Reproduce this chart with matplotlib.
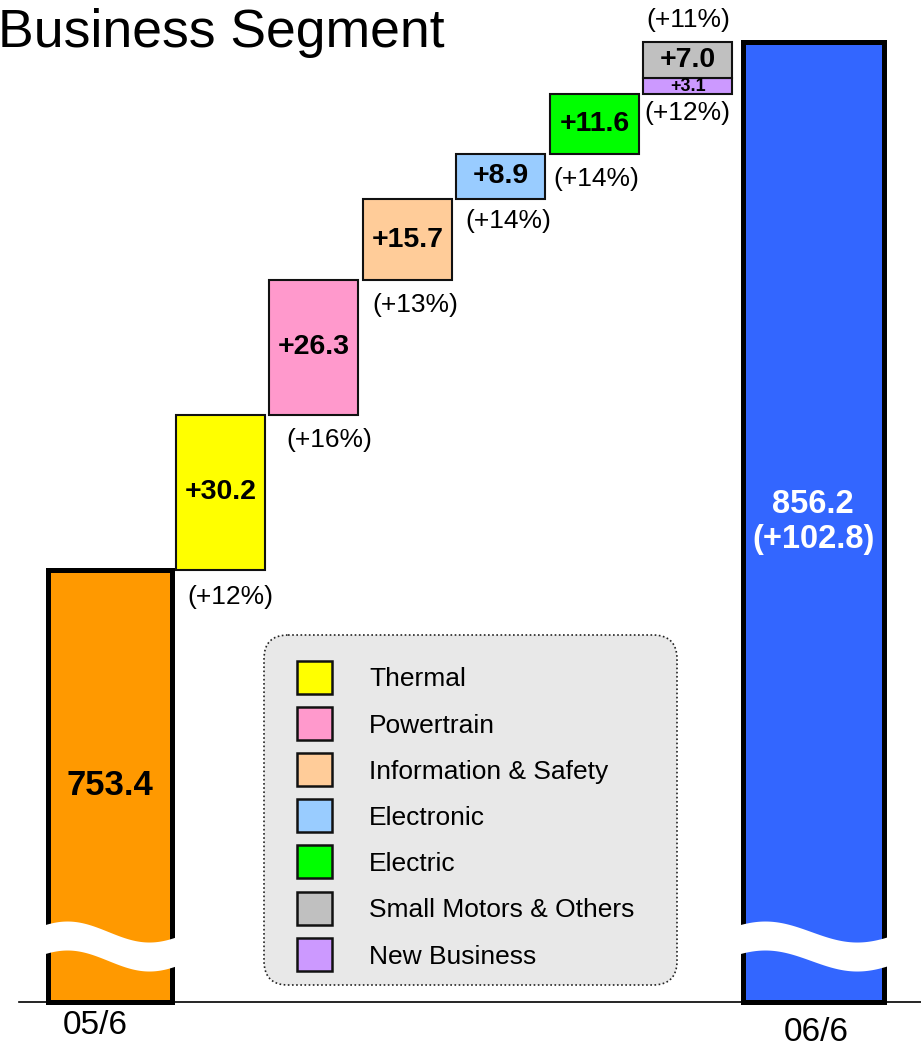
import numpy as np
import matplotlib.pyplot as plt
from matplotlib.patches import FancyBboxPatch, Rectangle

plt.rcParams['font.family'] = ['Liberation Sans', 'DejaVu Sans']

# sales by business segment (billions of yen)
periods = ['05/6', '06/6']
start_total = 753.4
end_total = 856.2
total_change = '+102.8'
segments = ['Thermal', 'Powertrain', 'Information & Safety', 'Electronic',
            'Electric', 'New Business', 'Small Motors & Others']
deltas = [30.2, 26.3, 15.7, 8.9, 11.6, 3.1, 7.0]
growth = ['+12%', '+16%', '+13%', '+14%', '+14%', '+12%', '+11%']
legend_order = ['Thermal', 'Powertrain', 'Information & Safety', 'Electronic',
                'Electric', 'Small Motors & Others', 'New Business']

seg_colors = {
    'Thermal': '#FFFF00',
    'Powertrain': '#FF99CC',
    'Information & Safety': '#FFCC99',
    'Electronic': '#99CCFF',
    'Electric': '#00FF00',
    'Small Motors & Others': '#C0C0C0',
    'New Business': '#CC99FF',
}

W, H = 921, 1049
fig = plt.figure(figsize=(W / 100, H / 100), dpi=100)
ax = fig.add_axes([0, 0, 1, 1])
ax.axis('off')

# one x unit = one step column; y is in value units with a cut floor
Y_TOP, Y_BOT = 864.4, 660.1
floor = 669.3
ax.set_xlim(-1.1765, 8.674)
ax.set_ylim(Y_BOT, Y_TOP)
px_y = H / (Y_TOP - Y_BOT)   # pixels per value unit
px_x = 93.5                  # pixels per column unit

# positions of the columns
start_x, end_x = 0.0, 7.52
seg_x = [1.18, 2.18, 3.18, 4.18, 5.18, 6.18, 6.18]
step_w = 0.955

# baseline
ax.plot([19 / px_x - 1.1765, 8.674], [floor, floor], color='black', lw=1.2, zorder=1)

# start and end totals
ax.bar(start_x, start_total - floor, bottom=floor, width=125 / px_x,
       color='#FF9900', edgecolor='black', linewidth=3.6, zorder=2)
ax.bar(end_x, end_total - floor, bottom=floor, width=141 / px_x,
       color='#3366FF', edgecolor='black', linewidth=3.6, zorder=2)

# segment steps
bottoms = start_total + np.cumsum(deltas) - np.array(deltas)
ax.bar(seg_x, deltas, bottom=bottoms, width=step_w,
       color=[seg_colors[s] for s in segments], edgecolor='#111111',
       linewidth=1.5, zorder=3)


def wave_cut(xc, width):
    # white wavy band showing the broken value axis
    left = xc - width / 2
    xs = np.linspace(left - 0.03, left + width + 0.03, 200)
    t = (xs - left) / width
    top = 682.98 + (10.5 / px_y) * np.cos(2 * np.pi * (t - 0.17) / 1.26)
    ax.fill_between(xs, top - 29 / px_y, top, color='white', lw=0, zorder=4)


wave_cut(start_x, 130 / px_x)
wave_cut(end_x, 146 / px_x)

# value labels
ax.text(start_x, (floor + start_total) / 2, f'{start_total:.1f}', ha='center',
        va='center', fontsize=25, fontweight='bold', zorder=5)
ax.text(end_x, (floor + end_total) / 2, f'{end_total:.1f}\n({total_change})',
        ha='center', va='center', fontsize=23.5, fontweight='bold',
        color='white', linespacing=1.15, zorder=5)

label_off = [(10, -27), (15, -25), (8, -25), (7, -22), (2, -25), (0, -19), (0, 22)]
for i, (x, b, d, g) in enumerate(zip(seg_x, bottoms, deltas, growth)):
    hpx = d * px_y
    fs = 20.5 if hpx > 26 else 13
    ax.text(x, b + d / 2, f'+{d:.1f}', ha='center', va='center',
            fontsize=fs, fontweight='bold', zorder=5)
    ox, oy = label_off[i]
    anchor = b + d if oy > 0 else b
    ax.annotate(f'({g})', xy=(x, anchor), xytext=(ox, oy),
                textcoords='offset pixels', ha='center', va='center',
                fontsize=19, zorder=5)

# period labels under the totals
ax.annotate(periods[0], xy=(start_x, floor), xytext=(-15, -24),
            textcoords='offset pixels', ha='center', va='center', fontsize=24)
ax.annotate(periods[1], xy=(end_x, floor), xytext=(3, -31),
            textcoords='offset pixels', ha='center', va='center', fontsize=24)

fig.text(-0.002, 1 - 47 / H, 'Business Segment', fontsize=38.5, va='baseline', ha='left')

# legend panel
lx, ly, lw_, lh = 262, 633, 417, 354
lax = fig.add_axes([lx / W, 1 - (ly + lh) / H, lw_ / W, lh / H])
lax.set_xlim(0, lw_)
lax.set_ylim(lh, 0)
lax.axis('off')
lax.add_patch(FancyBboxPatch((2, 2), lw_ - 4, lh - 4,
                             boxstyle='round,pad=0,rounding_size=24',
                             facecolor='#E8E8E8', edgecolor='#222222',
                             linestyle=(0, (1, 1.5)), linewidth=1.2))
for i, name in enumerate(legend_order):
    ry = 44 + 46.2 * i
    lax.add_patch(Rectangle((35, ry - 16.5), 35, 33, facecolor=seg_colors[name],
                            edgecolor='#111111', linewidth=1.8))
    lax.text(107, ry + 9.4, name, fontsize=19, va='baseline', ha='left')

fig.savefig('out.png', dpi=100)
